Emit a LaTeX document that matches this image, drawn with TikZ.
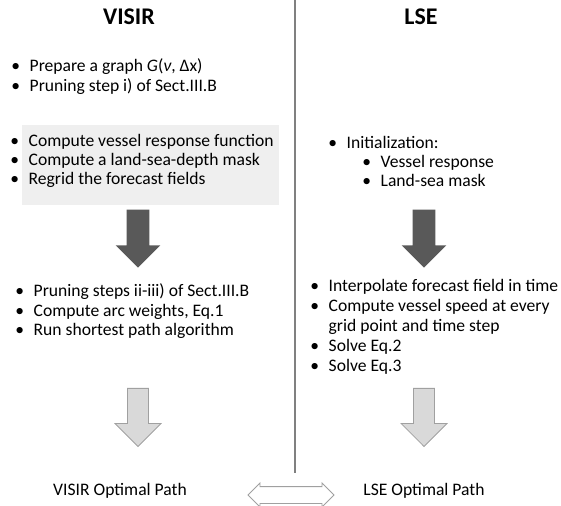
\documentclass[tikz,border=0pt]{standalone}
\usepackage{fontspec}
\setmainfont{Carlito}
\usetikzlibrary{shapes.arrows, positioning}
\definecolor{arrowDark}{HTML}{595959}
\definecolor{arrowLight}{HTML}{D9D9D9}
\definecolor{arrowEdge}{HTML}{A0A0A0}
\definecolor{panelGray}{HTML}{EFEFEF}
\definecolor{ruleGray}{HTML}{808080}
\newcommand{\bul}{\makebox[0.46cm][l]{\textbullet}}
\newcommand{\nobul}{\makebox[0.46cm][l]{}}
\tikzset{
  title/.style={inner sep=0pt, font=\fontsize{17}{20}\selectfont\bfseries},
  item/.style={anchor=mid west, inner sep=0pt, font=\fontsize{12.5}{14}\selectfont},
  result/.style={anchor=mid, inner sep=0pt, font=\fontsize{12.5}{14}\selectfont},
  darkArrow/.style={single arrow, rotate=-90, anchor=tip, inner xsep=0pt,
                    inner ysep=0.275cm, fill=arrowDark, draw=none,
                    minimum height=1.45cm, single arrow head extend=0.275cm},
  lightArrow/.style={single arrow, rotate=-90, anchor=tip, inner xsep=0pt,
                     inner ysep=0.25cm, fill=arrowLight, draw=arrowEdge,
                     line width=0.6pt, minimum height=1.45cm,
                     single arrow head extend=0.3125cm},
  bothArrow/.style={double arrow, inner xsep=0pt, inner ysep=0.2cm, fill=white,
                    draw=arrowEdge, line width=0.6pt, minimum height=2.15cm,
                    double arrow head extend=0.09cm},
}

\begin{document}
\begin{tikzpicture}[x=0.025cm, y=-0.025cm]
    \useasboundingbox (0,0) rectangle (561,506);
    %% divider
    \draw[ruleGray, line width=1.1pt] (295,0) -- (295,473);
    %% titles
    \node[title] (visTitle) at (129,17) {VISIR};
    \node[title] (lseTitle) at (421,17) {LSE};
    %% VISIR column
    \foreach \y/\t [count=\i] in {68/{\bul Prepare a graph \textit{G}(\textit{ν}, Δx)},
                                  88/{\bul Pruning step i) of Sect.III.B}}{
      \node[item] (visA\i) at (11,\y) {\t};
    }
    \fill[panelGray] (22,125) rectangle (279,205);
    \foreach \y/\t [count=\i] in {143/{\bul Compute vessel response function},
                                  162/{\bul Compute a land-sea-depth mask},
                                  181/{\bul Regrid the forecast fields}}{
      \node[item] (visB\i) at (10,\y) {\t};
    }
    \node[darkArrow] (visDown1) at (138,268) {};
    \foreach \y/\t [count=\i] in {293/{\bul Pruning steps ii-iii) of Sect.III.B},
                                  313/{\bul Compute arc weights, Eq.1},
                                  332/{\bul Run shortest path algorithm}}{
      \node[item] (visC\i) at (15,\y) {\t};
    }
    \node[lightArrow] (visDown2) at (138,447) {};
    \node[result] (visOut) at (120,492) {VISIR Optimal Path};
    %% LSE column
    \node[item] (lseA1) at (328,145) {\bul Initialization:};
    \foreach \y/\t [count=\i] in {164/{\bul Vessel response},
                                  183/{\bul Land-sea mask}}{
      \node[item] (lseA\i sub) at (362,\y) {\t};
    }
    \node[darkArrow] (lseDown1) at (424,268) {};
    \foreach \y/\t [count=\i] in {288/{\bul Interpolate forecast field in time},
                                  308/{\bul Compute vessel speed at every},
                                  328/{\nobul grid point and time step},
                                  348/{\bul Solve Eq.2},
                                  368/{\bul Solve Eq.3}}{
      \node[item] (lseB\i) at (310,\y) {\t};
    }
    \node[lightArrow] (lseDown2) at (424,447) {};
    \node[result] (lseOut) at (424,492) {LSE Optimal Path};
    %% comparison
    \node[bothArrow] (compare) at (291,495) {};
\end{tikzpicture}
\end{document}
